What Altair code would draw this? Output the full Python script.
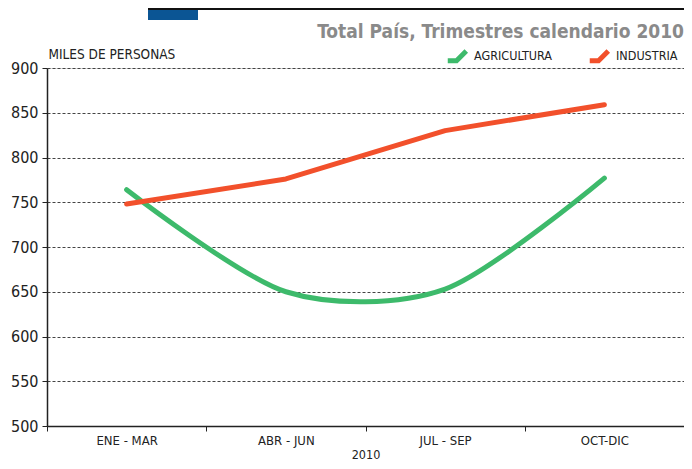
import altair as alt
import pandas as pd

quarters = ["ENE - MAR", "ABR - JUN", "JUL - SEP", "OCT-DIC"]
agricultura = [764, 650, 653, 777]
industria = [748, 776, 830, 859]
series_names = ["AGRICULTURA", "INDUSTRIA"]
series_colors = ["#3dba6b", "#f2502b"]
y_ticks = [500, 550, 600, 650, 700, 750, 800, 850, 900]

FONT = "Liberation Sans Narrow, DejaVu Sans Condensed, Roboto Condensed, Arial Narrow, sans-serif"

rows = []
for q, a, i in zip(quarters, agricultura, industria):
    rows.append({"trimestre": q, "serie": series_names[0], "valor": a})
    rows.append({"trimestre": q, "serie": series_names[1], "valor": i})
df = pd.DataFrame(rows)

W, H = 637, 358

x_enc = alt.X(
    "trimestre:N",
    sort=quarters,
    bandPosition=0.5,
    scale=alt.Scale(type="band", domain=quarters, paddingInner=0, paddingOuter=0),
    axis=alt.Axis(
        title="2010",
        tickBand="extent",
        labelAngle=0,
        labelFont=FONT,
        labelFontSize=13,
        labelColor="#222222",
        labelPadding=3,
        titleFont=FONT,
        titleFontSize=12.5,
        titleFontWeight="normal",
        titleColor="#222222",
        titlePadding=1,
        domainColor="#222222",
        domainWidth=1.5,
        tickColor="#222222",
        tickSize=5,
        grid=False,
    ),
)

y_enc = alt.Y(
    "valor:Q",
    scale=alt.Scale(domain=[500, 900], nice=False, zero=False),
    axis=alt.Axis(
        values=y_ticks,
        title="MILES DE PERSONAS",
        titleAngle=0,
        titleAlign="left",
        titleBaseline="alphabetic",
        titleX=1,
        titleY=-10,
        titleFont=FONT,
        titleFontSize=13.5,
        titleFontWeight="normal",
        titleColor="#222222",
        labelFont=FONT,
        labelFontSize=16,
        labelColor="#222222",
        labelPadding=4,
        domainColor="#222222",
        domainWidth=1.5,
        tickColor="#222222",
        tickSize=5,
        grid=True,
        gridColor="#444444",
        gridDash=[3, 2],
        gridWidth=1,
    ),
)

color_enc = alt.Color(
    "serie:N",
    scale=alt.Scale(domain=series_names, range=series_colors),
    legend=alt.Legend(
        title=None,
        orient="none",
        legendX=398,
        legendY=-25,
        direction="horizontal",
        symbolType="M -1 0.5 L -0.1 0.5 L 0.9 -0.5",
        symbolSize=380,
        symbolStrokeWidth=5,
        labelFont=FONT,
        labelFontSize=12.5,
        labelColor="#222222",
        labelOffset=4,
        labelLimit=200,
        columnPadding=26,
    ),
)

base = alt.Chart(df).encode(x=x_enc, y=y_enc, color=color_enc)

agri = base.transform_filter(alt.datum.serie == series_names[0]).mark_line(
    interpolate="cardinal", tension=0.15, strokeWidth=5, strokeCap="round"
)
indu = base.transform_filter(alt.datum.serie == series_names[1]).mark_line(
    interpolate="linear", strokeWidth=5, strokeCap="round", strokeJoin="round"
)

deco = pd.DataFrame({"k": [0]})
subtitle = alt.Chart(deco).mark_text(
    text="Total País, Trimestres calendario 2010",
    font=FONT,
    fontSize=19,
    fontWeight="bold",
    color="#8a8a8a",
    align="right",
    baseline="alphabetic",
).encode(x=alt.value(W), y=alt.value(-30))

top_rule = alt.Chart(deco).mark_rule(color="#111111", strokeWidth=2).encode(
    x=alt.value(101), x2=alt.value(W), y=alt.value(-59)
)
blue_box = alt.Chart(deco).mark_rect(color="#0b5594").encode(
    x=alt.value(101), x2=alt.value(151), y=alt.value(-58), y2=alt.value(-48)
)

chart = (
    alt.layer(agri, indu, subtitle, top_rule, blue_box)
    .properties(
        width=W,
        height=H,
        autosize=alt.AutoSizeParams(type="none"),
        padding={"left": 39, "top": 60, "right": 0, "bottom": 35},
    )
    .configure_view(stroke=None)
    .configure(background="white")
)

chart.save("out.html", embed_options={"renderer": "svg", "actions": False})
